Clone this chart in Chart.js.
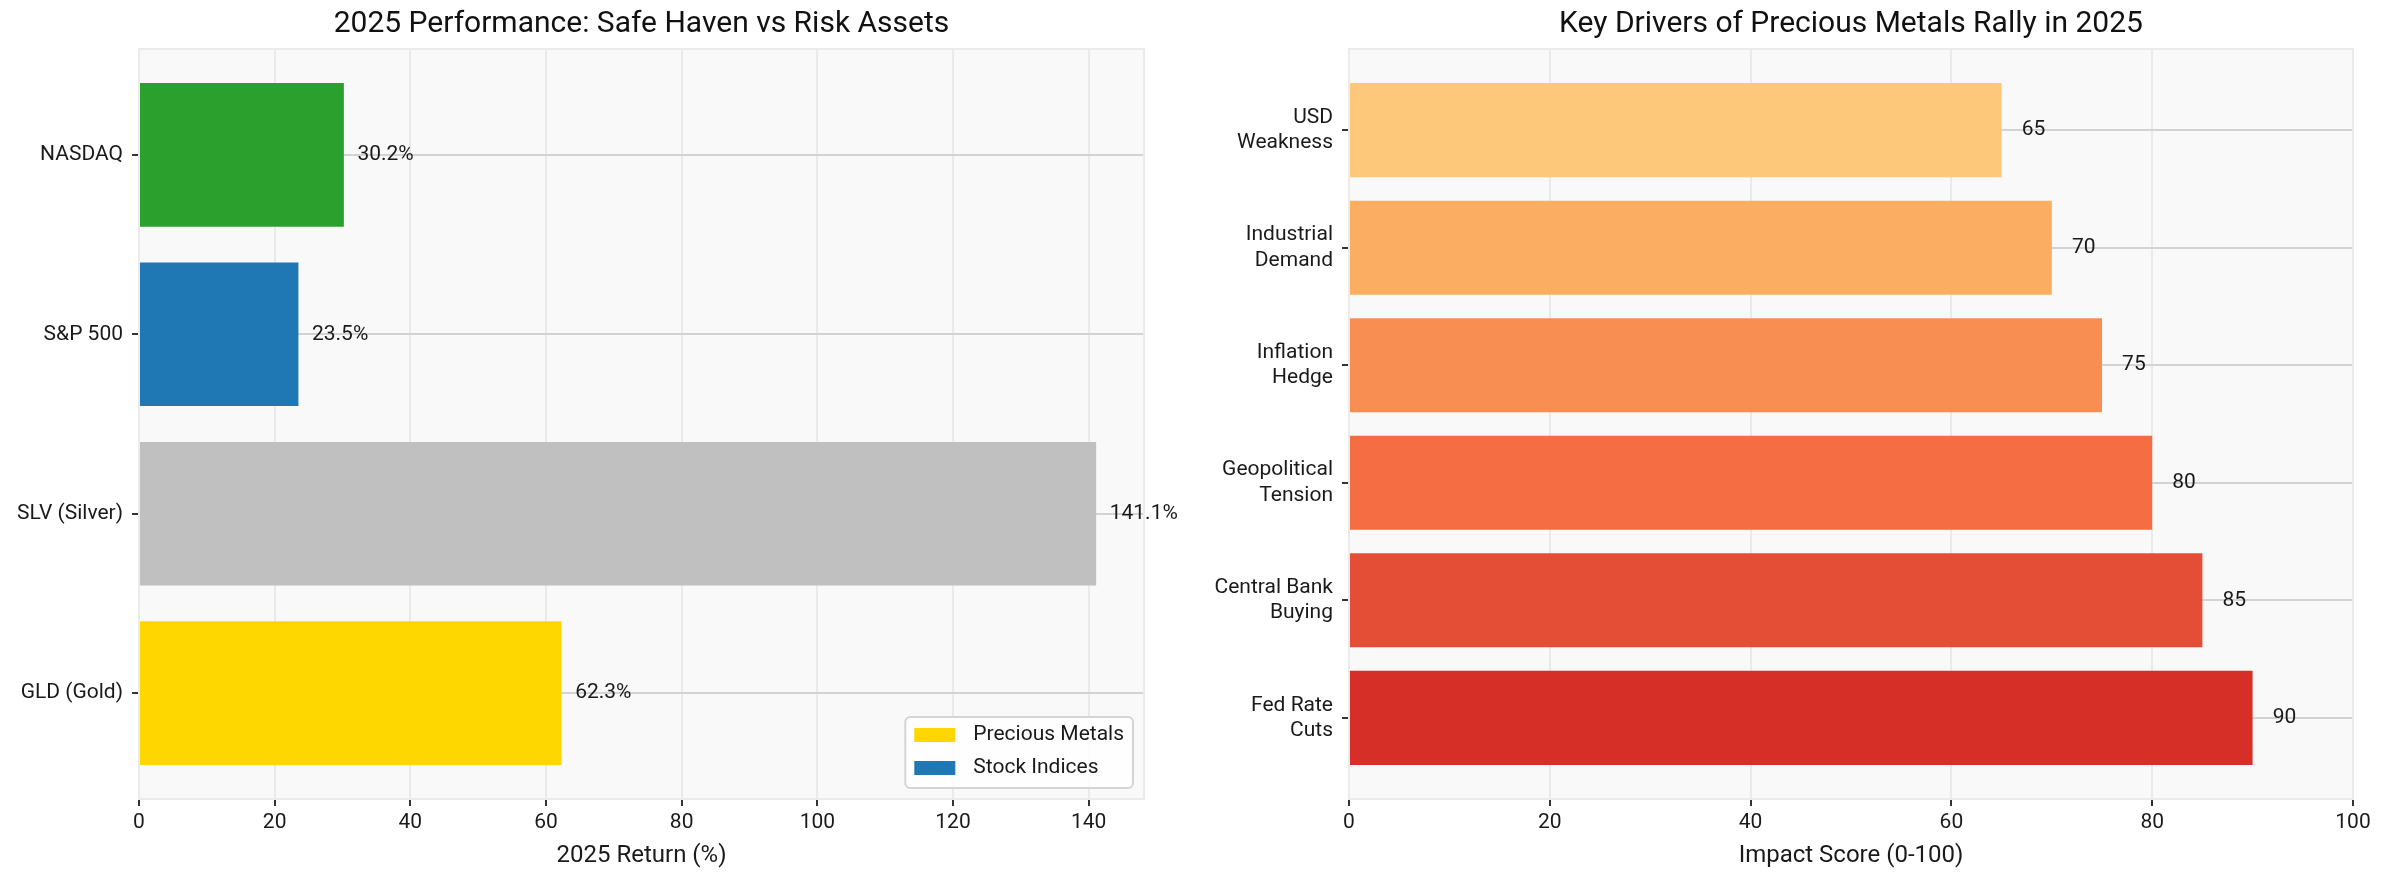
<!DOCTYPE html>
<html lang="en">
<head>
<meta charset="UTF-8">
<title>Precious Metals 2025</title>
<script src="https://cdn.jsdelivr.net/npm/chart.js"></script>
<style>
    html, body { margin: 0; padding: 0; background: #fff; }
    body { width: 2385px; height: 885px; position: relative; overflow: hidden; }
    .panel { position: absolute; top: 0; height: 885px; }
</style>
</head>
<body>

<div class="panel" style="left:0; width:1192px;"><canvas id="perfChart" width="1192" height="885"></canvas></div>
<div class="panel" style="left:1192px; width:1193px;"><canvas id="driverChart" width="1193" height="885"></canvas></div>

<script>
// left panel, listed bottom to top
const assetLabels = ['GLD (Gold)', 'SLV (Silver)', 'S&P 500', 'NASDAQ'];
const assetReturns = [62.3, 141.1, 23.5, 30.2];
const assetColors = ['#FFD700', '#C0C0C0', '#1f77b4', '#2ca02c'];
const returnTicks = [0, 20, 40, 60, 80, 100, 120, 140];
const legendLabels = ['Precious Metals', 'Stock Indices'];
const legendColors = ['#FFD700', '#1f77b4'];

// right panel, listed bottom to top
const driverLabels = [
    ['Fed Rate', 'Cuts'],
    ['Central Bank', 'Buying'],
    ['Geopolitical', 'Tension'],
    ['Inflation', 'Hedge'],
    ['Industrial', 'Demand'],
    ['USD', 'Weakness']
];
const driverScores = [90, 85, 80, 75, 70, 65];
const driverColors = ['#d62f27', '#e44d36', '#f46d43', '#f88e52', '#fbae61', '#fdc879'];
const scoreTicks = [0, 20, 40, 60, 80, 100];

const FONT = 'Roboto, sans-serif';
Chart.defaults.font.family = FONT;
Chart.defaults.color = '#1a1a1a';

const plotFrame = {
    id: 'plotFrame',
    beforeDraw(chart) {
        const { ctx, chartArea: a } = chart;
        ctx.save();
        ctx.fillStyle = '#f9f9f9';
        ctx.fillRect(a.left, a.top, a.width, a.height);
        ctx.restore();
    },
    afterDraw(chart) {
        const { ctx, chartArea: a } = chart;
        ctx.save();
        ctx.strokeStyle = '#ebebeb';
        ctx.lineWidth = 2;
        ctx.strokeRect(a.left, a.top, a.width, a.height);
        ctx.restore();
    }
};

function valueLabels(format, gap) {
    return {
        id: 'valueLabels',
        afterDraw(chart) {
            const { ctx, scales: { x, y } } = chart;
            ctx.save();
            ctx.font = '21px ' + FONT;
            ctx.fillStyle = '#1a1a1a';
            ctx.textAlign = 'left';
            ctx.textBaseline = 'middle';
            chart.data.datasets[0].data.forEach(p => {
                ctx.fillText(format(p.x), x.getPixelForValue(p.x + gap), y.getPixelForValue(p.y));
            });
            ctx.restore();
        }
    };
}

const cornerLegend = {
    id: 'cornerLegend',
    afterDraw(chart) {
        const { ctx, chartArea: a } = chart;
        ctx.save();
        ctx.font = '21px ' + FONT;
        const textW = Math.max(...legendLabels.map(t => ctx.measureText(t).width));
        const w = 9 + 41 + 18 + textW + 9;
        const h = 71;
        const x0 = a.right - 11 - w;
        const y0 = a.bottom - 11 - h;
        ctx.beginPath();
        ctx.roundRect(x0, y0, w, h, 5);
        ctx.fillStyle = 'rgba(255,255,255,0.8)';
        ctx.fill();
        ctx.strokeStyle = '#d4d4d4';
        ctx.lineWidth = 2;
        ctx.stroke();
        ctx.textAlign = 'left';
        ctx.textBaseline = 'middle';
        legendLabels.forEach((t, i) => {
            const cy = y0 + 18 + i * 33;
            ctx.fillStyle = legendColors[i];
            ctx.fillRect(x0 + 9, cy - 7, 41, 14);
            ctx.fillStyle = '#1a1a1a';
            ctx.fillText(t, x0 + 9 + 41 + 18, cy);
        });
        ctx.restore();
    }
};

function makeBarChart(id, o) {
    return new Chart(document.getElementById(id), {
        type: 'bar',
        data: {
            datasets: [{
                data: o.values.map((v, i) => ({ x: v, y: i })),
                backgroundColor: o.colors,
                borderWidth: 0,
                barPercentage: 0.8,
                categoryPercentage: 1.0
            }]
        },
        options: {
            indexAxis: 'y',
            responsive: false,
            animation: false,
            layout: { padding: { left: 0, right: o.padRight, top: 0, bottom: 0 } },
            plugins: {
                legend: { display: false },
                tooltip: { enabled: false },
                title: {
                    display: true,
                    fullSize: false,
                    text: o.title,
                    color: '#111',
                    font: { size: 30, weight: 'normal', lineHeight: 1.2 },
                    padding: { top: 6, bottom: 7 }
                }
            },
            scales: {
                x: {
                    type: 'linear',
                    min: 0,
                    max: o.xMax,
                    z: 1,
                    afterBuildTicks: axis => { axis.ticks = o.xTicks.map(v => ({ value: v })); },
                    afterFit: axis => { axis.height = 86; },
                    border: { display: false },
                    grid: { color: 'rgba(205,205,205,0.35)', lineWidth: 2, tickLength: 7, tickColor: '#333', tickWidth: 2 },
                    ticks: { font: { size: 21 }, padding: 4, maxRotation: 0 },
                    title: { display: true, text: o.xTitle, font: { size: 24 }, padding: { top: 0, bottom: 15 } }
                },
                y: {
                    type: 'linear',
                    min: -o.yPad,
                    max: o.values.length - 1 + o.yPad,
                    offset: false,
                    z: 1,
                    afterBuildTicks: axis => { axis.ticks = o.labels.map((_, i) => ({ value: i })); },
                    afterFit: axis => { axis.width = o.yWidth; },
                    border: { display: false },
                    grid: { offset: false, color: '#d3d3d3', lineWidth: 2, tickLength: 7, tickColor: '#333', tickWidth: 2 },
                    ticks: { font: { size: 21, lineHeight: 1.2 }, padding: 9, callback: v => o.labels[v] }
                }
            }
        },
        plugins: [plotFrame, valueLabels(o.format, 2)].concat(o.extra || [])
    });
}

makeBarChart('perfChart', {
    title: '2025 Performance: Safe Haven vs Risk Assets',
    xTitle: '2025 Return (%)',
    labels: assetLabels,
    values: assetReturns,
    colors: assetColors,
    xTicks: returnTicks,
    xMax: 141.1 * 1.05,
    yPad: 0.59,
    yWidth: 139,
    padRight: 48,
    format: v => v.toFixed(1) + '%',
    extra: [cornerLegend]
});

makeBarChart('driverChart', {
    title: 'Key Drivers of Precious Metals Rally in 2025',
    xTitle: 'Impact Score (0-100)',
    labels: driverLabels,
    values: driverScores,
    colors: driverColors,
    xTicks: scoreTicks,
    xMax: 100,
    yPad: 0.69,
    yWidth: 157,
    padRight: 32,
    format: v => String(v),
    extra: []
});
</script>
</body>
</html>
